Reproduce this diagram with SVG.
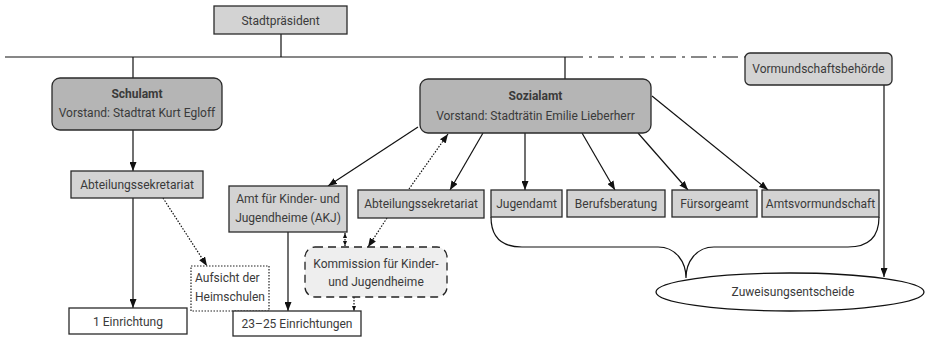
<svg xmlns="http://www.w3.org/2000/svg" width="925" height="337" viewBox="0 0 925 337">
<style>
text{font-family:Roboto,"Liberation Sans",sans-serif;font-size:12px;fill:#3a3a3a;text-anchor:middle}
.b{font-weight:bold}
.lt{fill:#d3d3d3;stroke:#2a2a2a;stroke-width:1.3}
.dk{fill:#b5b5b5;stroke:#2a2a2a;stroke-width:1.3}
.wh{fill:#fff;stroke:#2a2a2a;stroke-width:1.3}
.ln{fill:none;stroke:#111;stroke-width:1.2}
.dot{fill:none;stroke:#111;stroke-width:1.2;stroke-dasharray:1.5 1.5}
</style>
<defs>
<marker id="a" markerUnits="userSpaceOnUse" markerWidth="9" markerHeight="7" refX="9" refY="3.5" orient="auto"><path d="M0,0 L9,3.5 L0,7 z" fill="#111"/></marker>
<marker id="s" markerUnits="userSpaceOnUse" markerWidth="5" markerHeight="4" refX="5" refY="2" orient="auto"><path d="M0,0 L5,2 L0,4 z" fill="#111"/></marker>
<marker id="ss" markerUnits="userSpaceOnUse" markerWidth="5" markerHeight="4" refX="0" refY="2" orient="auto"><path d="M5,0 L0,2 L5,4 z" fill="#111"/></marker>
</defs>
<g id="connectors">
<path class="ln" d="M281,34 V57 M5,57 H567 M133,57 V78 M565,57 V79"/>
<path class="ln" d="M567,57 H745" stroke-dasharray="16 6 3 6"/>
<path class="ln" d="M133,130 V171" marker-end="url(#a)"/>
<path class="ln" d="M133,198 V308" marker-end="url(#a)"/>
<path class="dot" d="M163,198 L207,266" marker-end="url(#a)"/>
<path class="ln" d="M418,127 L328,186" marker-end="url(#a)"/>
<path class="ln" d="M288,232 V311" marker-end="url(#a)"/>
<path class="dot" d="M345,233 V246" marker-start="url(#ss)" marker-end="url(#s)"/>
<path class="dot" d="M354,297 V311" marker-end="url(#s)"/>
<path class="ln" d="M483,133 L450,190" marker-end="url(#a)"/>
<path class="dot" d="M409,189 L448,134" marker-end="url(#a)"/>
<path class="dot" d="M387,218 L368,247" marker-end="url(#a)"/>
<path class="ln" d="M525,133 V190" marker-end="url(#a)"/>
<path class="ln" d="M582,133 L615,190" marker-end="url(#a)"/>
<path class="ln" d="M638,133 L688,190" marker-end="url(#a)"/>
<path class="ln" d="M652,96 L768,190" marker-end="url(#a)"/>
<path class="ln" d="M884,85 V277" marker-end="url(#a)"/>
<path class="ln" d="M491,217 C491,238 503,247 522,247 L658,247 C676,247 686,262 686,278 M879,217 C879,238 867,247 848,247 L714,247 C696,247 686,262 686,278"/>
</g>
<g id="stadtpraesident"><rect class="lt" x="214" y="6" width="133" height="28"/><text x="280.5" y="24.5">Stadtpräsident</text></g>
<g id="schulamt"><rect class="dk" x="52" y="78" width="170" height="52" rx="8"/><text class="b" x="137" y="98">Schulamt</text><text x="137" y="117">Vorstand: Stadtrat Kurt Egloff</text></g>
<g id="sozialamt"><rect class="dk" x="420" y="79" width="231" height="54" rx="8"/><text class="b" x="535.5" y="100">Sozialamt</text><text x="535.5" y="120">Vorstand: Stadträtin Emilie Lieberherr</text></g>
<g id="vormundschaftsbehoerde"><rect class="lt" x="745" y="53" width="147" height="32" rx="5"/><text x="818.5" y="73">Vormundschaftsbehörde</text></g>
<g id="abt1"><rect class="lt" x="71" y="171" width="132" height="27"/><text x="137" y="188.5">Abteilungssekretariat</text></g>
<g id="einrichtung1"><rect class="wh" x="69" y="308" width="118" height="26"/><text x="128" y="325.5">1 Einrichtung</text></g>
<g id="aufsicht"><rect x="191" y="266" width="78" height="45" fill="#fff" stroke="#222" stroke-width="1.2" stroke-dasharray="1.5 1.5"/><text x="195" y="282" style="text-anchor:start">Aufsicht der</text><text x="195" y="301" style="text-anchor:start">Heimschulen</text></g>
<g id="akj"><rect class="lt" x="229" y="186" width="118" height="46"/><text x="288" y="203">Amt für Kinder- und</text><text x="288" y="222">Jugendheime (AKJ)</text></g>
<g id="einrichtungen"><rect class="wh" x="233" y="311" width="128" height="25"/><text x="297" y="328">23–25 Einrichtungen</text></g>
<g id="kommission"><rect x="305" y="247" width="142" height="50" rx="10" fill="#eeeeee" stroke="#222" stroke-width="1.3" stroke-dasharray="8 5"/><text x="376" y="268">Kommission für Kinder-</text><text x="376" y="286">und Jugendheime</text></g>
<g id="abt2"><rect class="lt" x="358" y="190" width="126" height="28"/><text x="421" y="208">Abteilungssekretariat</text></g>
<g id="jugendamt"><rect class="lt" x="491" y="190" width="71" height="27"/><text x="526.5" y="207.5">Jugendamt</text></g>
<g id="berufsberatung"><rect class="lt" x="567" y="190" width="98" height="27"/><text x="616" y="207.5">Berufsberatung</text></g>
<g id="fuersorgeamt"><rect class="lt" x="672" y="190" width="85" height="27"/><text x="714.5" y="207.5">Fürsorgeamt</text></g>
<g id="amtsvormundschaft"><rect class="lt" x="762" y="190" width="117" height="27"/><text x="820.5" y="207.5">Amtsvormundschaft</text></g>
<g id="zuweisungsentscheide"><ellipse cx="790" cy="292" rx="134" ry="19" fill="#fff" stroke="#111" stroke-width="1.3"/><text x="793" y="296">Zuweisungsentscheide</text></g>
</svg>
